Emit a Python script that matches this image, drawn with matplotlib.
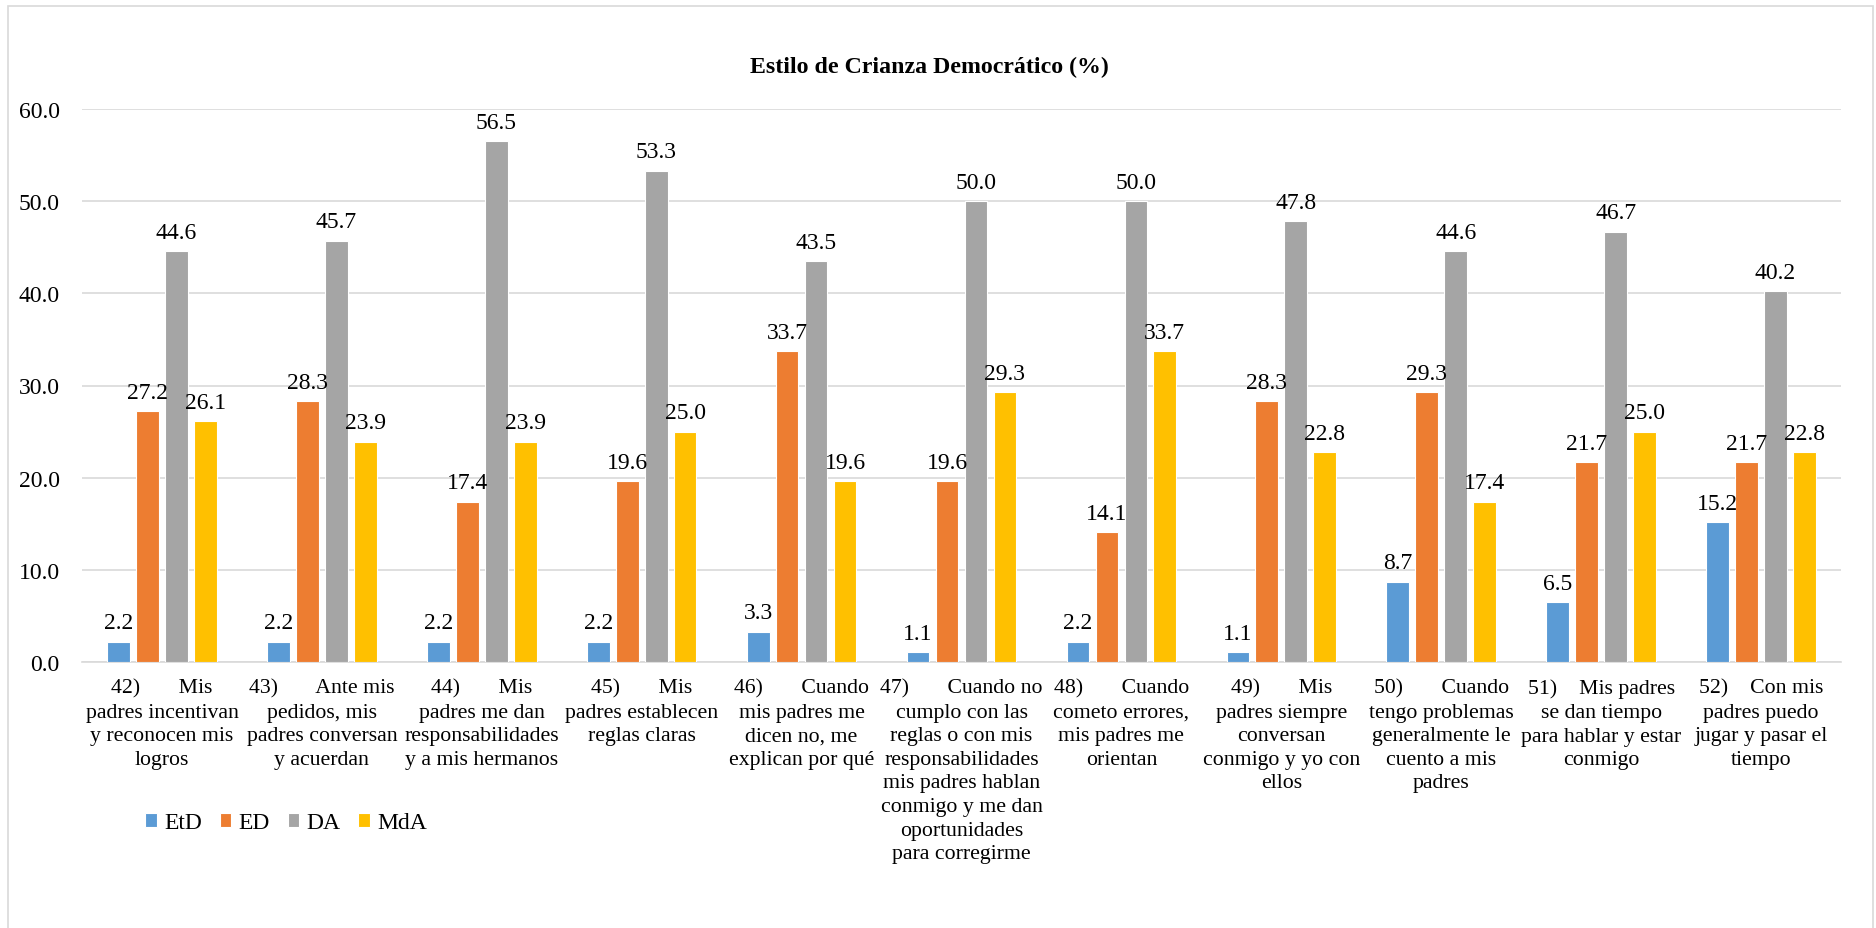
import matplotlib
matplotlib.use('Agg')
from matplotlib import pyplot as plt
from matplotlib.patches import Rectangle
import numpy as np

plt.rcParams.update({
    'font.family': 'serif',
    'font.serif': ['Liberation Serif', 'DejaVu Serif'],
})

items = [
    '42)       Mis\npadres incentivan\ny reconocen mis\nlogros',
    '43)       Ante mis\npedidos, mis\npadres conversan\ny acuerdan',
    '44)       Mis\npadres me dan\nresponsabilidades\ny a mis hermanos',
    '45)       Mis\npadres establecen\nreglas claras',
    '46)       Cuando\nmis padres me\ndicen no, me\nexplican por qué',
    '47)       Cuando no\ncumplo con las\nreglas o con mis\nresponsabilidades\nmis padres hablan\nconmigo y me dan\noportunidades\npara corregirme',
    '48)       Cuando\ncometo errores,\nmis padres me\norientan',
    '49)       Mis\npadres siempre\nconversan\nconmigo y yo con\nellos',
    '50)       Cuando\ntengo problemas\ngeneralmente le\ncuento a mis\npadres',
    '51)    Mis padres\nse dan tiempo\npara hablar y estar\nconmigo',
    '52)    Con mis\npadres puedo\njugar y pasar el\ntiempo',
]
series = ['EtD', 'ED', 'DA', 'MdA']
etd = [2.2, 2.2, 2.2, 2.2, 3.3, 1.1, 2.2, 1.1, 8.7, 6.5, 15.2]
ed = [27.2, 28.3, 17.4, 19.6, 33.7, 19.6, 14.1, 28.3, 29.3, 21.7, 21.7]
da = [44.6, 45.7, 56.5, 53.3, 43.5, 50.0, 50.0, 47.8, 44.6, 46.7, 40.2]
mda = [26.1, 23.9, 23.9, 25.0, 19.6, 29.3, 33.7, 22.8, 17.4, 25.0, 22.8]
colors = ['#5B9BD5', '#ED7D31', '#A5A5A5', '#FFC000']

W, H = 1876, 929
fig = plt.figure(figsize=(W / 100, H / 100), dpi=100)
ax = fig.add_axes([82 / W, 1 - 663 / H, (1841 - 82) / W, (663 - 110) / H])

x = np.arange(len(items))
pitch, bw = 0.181, 0.142
for i, (name, vals) in enumerate(zip(series, [etd, ed, da, mda])):
    pos = x + (i - 1.5) * pitch
    ax.bar(pos, vals, bw, color=colors[i], edgecolor='white', linewidth=0.8,
           label=name, zorder=3)
    for xp, v in zip(pos, vals):
        ax.annotate(f'{v:.1f}', (xp, v), xytext=(0, 6), textcoords='offset points',
                    ha='center', va='bottom', fontsize=17, zorder=4)

ax.set_xlim(-0.5, len(items) - 0.5)
ax.set_ylim(0, 60)
ax.set_yticks(np.arange(0, 61, 10))
ax.set_yticklabels([f'{t:.1f}' for t in np.arange(0, 61, 10)], fontsize=17)
ax.set_xticks(x)
ax.set_xticklabels(items, fontsize=15.7, linespacing=1.33, va='top', ha='center')
ax.tick_params(axis='both', length=0)
ax.tick_params(axis='y', pad=16)
ax.tick_params(axis='x', pad=12)
ax.grid(axis='y', color='#D9D9D9', linewidth=1.2, zorder=0)
for s in ['top', 'right', 'left']:
    ax.spines[s].set_visible(False)
ax.spines['bottom'].set_color('#D9D9D9')
ax.spines['bottom'].set_linewidth(1.2)

fig.text(929 / W, 1 - 67 / H, 'Estilo de Crianza Democrático (%)', ha='center', va='center',
         fontsize=17.2, fontweight='bold')

fig.legend(loc='center', bbox_to_anchor=(286 / W, 1 - 824 / H), ncol=4, frameon=False,
           fontsize=17, handlelength=0.5, handleheight=0.5, handletextpad=0.3,
           columnspacing=0.75, borderpad=0)

# chart border
fig.patches.append(Rectangle((8 / W, -0.05), (1873 - 8) / W, 1 - 7 / H + 0.05,
                             transform=fig.transFigure, fill=False,
                             edgecolor='#D9D9D9', linewidth=1.2))

fig.savefig('out.png', dpi=100)
